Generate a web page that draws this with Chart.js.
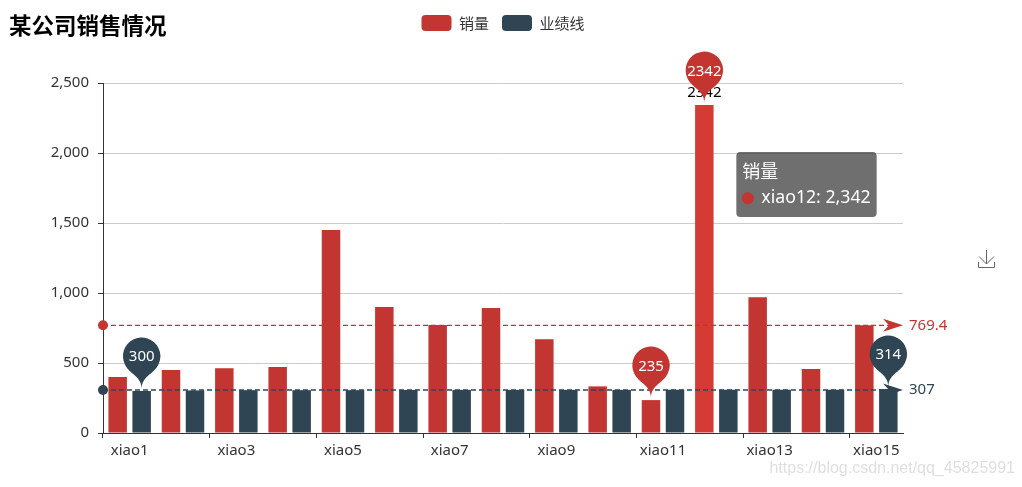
<!DOCTYPE html>
<html>

<head>
  <meta charset="UTF-8">
  <style>
    html, body { margin: 0; padding: 0; background: #fff; overflow: hidden; }
    canvas { display: block; }
  </style>
</head>

<body>
  <canvas id="salesChart" width="1022" height="487"></canvas>

  <script src="https://cdn.jsdelivr.net/npm/chart.js@4.3.0/dist/chart.umd.min.js"></script>
  <script>
    const categories = ["xiao1", "xiao2", "xiao3", "xiao4", "xiao5", "xiao6", "xiao7", "xiao8",
      "xiao9", "xiao10", "xiao11", "xiao12", "xiao13", "xiao14", "xiao15"]
    const salesValues = [400, 450, 462, 471, 1450, 900, 771, 892, 669, 333, 235, 2342, 970, 457, 770]
    const targetValues = [300, 304, 306, 306, 306, 307, 308, 308, 308, 308, 309, 309, 309, 309, 314]
    const yTicks = [0, 500, 1000, 1500, 2000, 2500]
    const averageLines = [769.4, 307]
    // [dataset, index] of the pins
    const pins = [[0, 11], [0, 10], [1, 0], [1, 14]]
    const activeBar = { datasetIndex: 0, index: 11 }

    const RED = "#c23531"
    const NAVY = "#2f4554"
    const FONT = '"Noto Sans", "Noto Sans CJK SC", sans-serif'
    const CJK = '"Noto Sans CJK SC", "Noto Sans", sans-serif'

    Chart.Tooltip.positioners.besideBar = function (items) {
      if (!items.length) return false
      return { x: items[0].element.x + 36, y: items[0].element.y + 47 }
    }

    function drawPin(ctx, x, y, color, text) {
      // same outline as the echarts pin symbol
      const h = 60, r = 18.7
      const dy = r * r / (h - r)
      const cy = y - h + r + dy
      const angle = Math.asin(dy / r)
      const dx = Math.cos(angle) * r
      const tanX = Math.sin(angle), tanY = Math.cos(angle)
      const cp = r * 0.6, cp2 = r * 0.7
      ctx.beginPath()
      ctx.moveTo(x - dx, cy + dy)
      ctx.arc(x, cy, r, Math.PI - angle, Math.PI * 2 + angle)
      ctx.bezierCurveTo(x + dx - tanX * cp, cy + dy + tanY * cp, x, y - cp2, x, y)
      ctx.bezierCurveTo(x, y - cp2, x - dx + tanX * cp, cy + dy + tanY * cp, x - dx, cy + dy)
      ctx.closePath()
      ctx.fillStyle = color
      ctx.fill()
      ctx.fillStyle = "#fff"
      ctx.font = "15px " + FONT
      ctx.textAlign = "center"
      ctx.textBaseline = "middle"
      ctx.fillText(text, x, cy + 1)
    }

    function drawAverage(ctx, area, y, color, text) {
      ctx.strokeStyle = color
      ctx.fillStyle = color
      ctx.lineWidth = 1.3
      ctx.setLineDash([5, 3])
      ctx.beginPath()
      ctx.moveTo(area.left, y)
      ctx.lineTo(area.right - 14, y)
      ctx.stroke()
      ctx.setLineDash([])
      ctx.beginPath()
      ctx.arc(area.left, y, 5, 0, Math.PI * 2)
      ctx.fill()
      ctx.beginPath()
      ctx.moveTo(area.right, y)
      ctx.lineTo(area.right - 20, y - 6.5)
      ctx.lineTo(area.right - 14, y)
      ctx.lineTo(area.right - 20, y + 6.5)
      ctx.closePath()
      ctx.fill()
      ctx.font = "15px " + FONT
      ctx.textAlign = "left"
      ctx.textBaseline = "middle"
      ctx.fillText(text, area.right + 6, y)
    }

    const extras = {
      id: "extras",
      beforeInit(chart) {
        // leave room under the legend down to the plot
        const fit = chart.legend.fit
        chart.legend.fit = function () {
          fit.call(this)
          this.height += 42
        }
      },
      afterLayout(chart) {
        // the legend is centred over the plot, not the canvas
        chart.legend.left = chart.chartArea.left
        chart.legend.right = chart.chartArea.right
      },
      afterDatasetsDraw(chart) {
        const ctx = chart.ctx
        const y = chart.scales.y
        ctx.save()
        averageLines.forEach((v, i) => {
          drawAverage(ctx, chart.chartArea, y.getPixelForValue(v), i == 0 ? RED : NAVY, String(v))
        })
        const bar = chart.getDatasetMeta(activeBar.datasetIndex).data[activeBar.index]
        ctx.fillStyle = "#000"
        ctx.font = "15px " + FONT
        ctx.textAlign = "center"
        ctx.textBaseline = "middle"
        ctx.fillText(String(salesValues[activeBar.index]), bar.x, bar.y - 12)
        for (const [d, i] of pins) {
          const el = chart.getDatasetMeta(d).data[i]
          const value = chart.data.datasets[d].data[i]
          drawPin(ctx, el.x, el.y - 2, d == 0 ? RED : NAVY, String(value))
        }
        ctx.restore()
      },
      afterDraw(chart) {
        const ctx = chart.ctx
        ctx.save()
        // title
        ctx.fillStyle = "#000"
        ctx.font = "bold 22.5px " + CJK
        ctx.textAlign = "left"
        ctx.textBaseline = "middle"
        ctx.fillText("某公司销售情况", 9, 25)
        // save icon of the toolbox
        ctx.strokeStyle = "#666"
        ctx.lineWidth = 1
        ctx.beginPath()
        ctx.moveTo(986.5, 250); ctx.lineTo(986.5, 264)
        ctx.moveTo(979, 256.5); ctx.lineTo(986.5, 264); ctx.lineTo(994, 256.5)
        ctx.moveTo(978.5, 262); ctx.lineTo(978.5, 267.5); ctx.lineTo(994.5, 267.5); ctx.lineTo(994.5, 262)
        ctx.stroke()
        // watermark
        ctx.fillStyle = "#dfdfdf"
        ctx.font = '16px "Liberation Sans", sans-serif'
        ctx.textAlign = "right"
        ctx.fillText("https://blog.csdn.net/qq_45825991", 1015, 469)
        ctx.restore()
      }
    }

    const chart = new Chart(document.getElementById("salesChart").getContext("2d"), {
      type: "bar",
      plugins: [extras],
      data: {
        labels: categories,
        datasets: [
          { label: "销量", data: salesValues, backgroundColor: RED, hoverBackgroundColor: "#d53a35" },
          { label: "业绩线", data: targetValues, backgroundColor: NAVY, hoverBackgroundColor: NAVY }
        ]
      },
      options: {
        responsive: false,
        animation: false,
        events: [],
        locale: "en-US",
        categoryPercentage: 0.9,
        barPercentage: 0.77,
        layout: { padding: { left: 0, right: 119, top: 2, bottom: 0 } },
        scales: {
          x: {
            afterFit(scale) { scale.height = 54 },
            border: { color: "#333" },
            grid: {
              offset: true,
              drawOnChartArea: false,
              tickLength: 5,
              tickColor: (c) => c.index % 2 == 0 ? "#333" : "rgba(0,0,0,0)"
            },
            ticks: {
              autoSkip: false,
              maxRotation: 0,
              color: "#333",
              padding: 4,
              font: { family: FONT, size: 15 },
              callback(value, index) { return index % 2 == 0 ? this.getLabelForValue(value) : "" }
            }
          },
          y: {
            min: 0,
            max: 2500,
            afterFit(scale) { scale.width = 103 },
            afterBuildTicks(scale) { scale.ticks = yTicks.map((v) => ({ value: v })) },
            border: { color: "#333" },
            grid: { color: "#ccc", tickColor: "#333", tickLength: 5 },
            ticks: { color: "#333", padding: 9, font: { family: FONT, size: 15 } }
          }
        },
        plugins: {
          legend: {
            position: "top",
            labels: {
              boxWidth: 30,
              boxHeight: 16,
              useBorderRadius: true,
              borderRadius: 4,
              padding: 13,
              color: "#333",
              font: { family: CJK, size: 15 }
            }
          },
          tooltip: {
            position: "besideBar",
            xAlign: "left",
            yAlign: "top",
            caretSize: 0,
            caretPadding: 0,
            padding: { top: 8, bottom: 8, left: 6, right: 6 },
            cornerRadius: 4,
            backgroundColor: "rgba(50,50,50,0.7)",
            titleColor: "#fff",
            bodyColor: "#fff",
            titleFont: { family: CJK, size: 18, weight: "normal" },
            bodyFont: { family: FONT, size: 17.7 },
            titleMarginBottom: 6,
            usePointStyle: true,
            boxWidth: 11,
            boxHeight: 11,
            boxPadding: 6,
            multiKeyBackground: RED,
            callbacks: {
              title: (items) => items[0].dataset.label,
              label: (item) => item.label + ": " + item.formattedValue,
              labelColor: () => ({ backgroundColor: RED, borderColor: RED }),
              labelPointStyle: () => ({ pointStyle: "circle", rotation: 0 })
            }
          }
        }
      }
    })

    chart.setActiveElements([activeBar])
    chart.tooltip.setActiveElements([activeBar], { x: 0, y: 0 })
    chart.update()
  </script>
</body>
</html>
